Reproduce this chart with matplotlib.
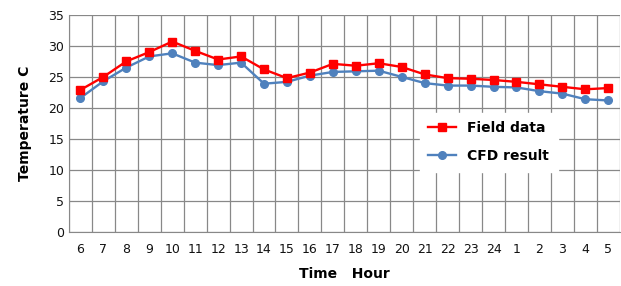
import matplotlib.pyplot as plt
import numpy as np

hours = ["6", "7", "8", "9", "10", "11", "12", "13", "14", "15", "16", "17",
         "18", "19", "20", "21", "22", "23", "24", "1", "2", "3", "4", "5"]
field_data = [22.9, 25.0, 27.5, 29.0, 30.7, 29.2, 27.8, 28.3, 26.2, 24.8, 25.7, 27.1,
              26.8, 27.2, 26.6, 25.4, 24.8, 24.7, 24.5, 24.2, 23.8, 23.4, 23.0, 23.2]
cfd_result = [21.6, 24.3, 26.5, 28.3, 28.8, 27.3, 26.9, 27.3, 23.9, 24.2, 25.2, 25.8,
              25.9, 26.0, 25.0, 24.0, 23.6, 23.6, 23.4, 23.3, 22.7, 22.3, 21.4, 21.2]

fig = plt.figure(figsize=(6.21, 2.86), dpi=100)
ax = fig.add_axes([0.111, 0.189, 0.887, 0.759])

x = np.arange(len(hours))
ax.plot(x, field_data, color="#ff0000", marker="s", markersize=5.5, lw=1.7,
        label="Field data", zorder=4)
ax.plot(x, cfd_result, color="#4f81bd", marker="o", markersize=5.5, lw=1.7,
        label="CFD result", zorder=3)

ax.set_xlim(-0.5, len(hours) - 0.5)
ax.set_ylim(0, 35)
ax.set_yticks(np.arange(0, 36, 5))
ax.set_xticks(x)
ax.set_xticklabels(hours)
ax.set_xticks(np.arange(-0.5, len(hours), 1), minor=True)
ax.grid(True, axis="y", color="#888888", lw=0.9)
ax.grid(True, axis="x", which="minor", color="#888888", lw=0.9)
ax.set_axisbelow(True)
ax.tick_params(axis="both", which="both", length=0, labelsize=9, colors="#111111")
ax.tick_params(axis="x", pad=8)
for s in ["top", "right"]:
    ax.spines[s].set_visible(False)
for s in ["left", "bottom"]:
    ax.spines[s].set_color("#888888")

ax.set_xlabel("Time   Hour", fontsize=10, fontweight="bold", labelpad=8)
ax.set_ylabel("Temperature C", fontsize=10, fontweight="bold", labelpad=12)

leg = ax.legend(loc="upper left", bbox_to_anchor=(0.625, 0.58), frameon=True,
                prop={"weight": "bold", "size": 10}, handlelength=2.0,
                labelspacing=1.0, borderpad=0.6)
leg.get_frame().set_edgecolor("white")
leg.get_frame().set_facecolor("white")
leg.get_frame().set_alpha(1)
leg.get_frame().set_boxstyle("square", pad=0)

fig.savefig("out.png", dpi=100)
